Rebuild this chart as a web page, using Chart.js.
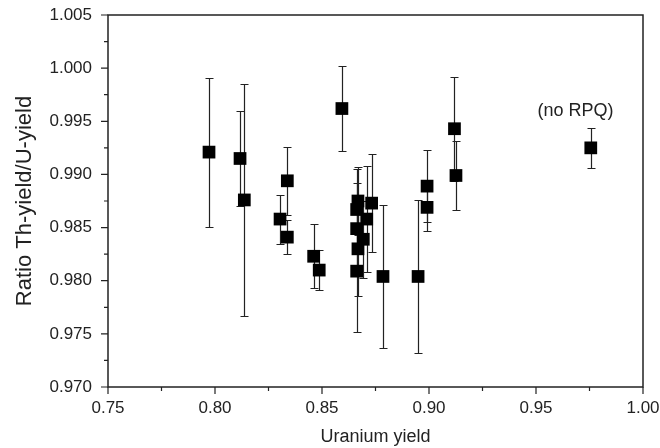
<!DOCTYPE html>
<html>
<head>
<meta charset="utf-8">
<script src="https://cdn.jsdelivr.net/npm/chart.js@4/dist/chart.umd.min.js"></script>
<style>
  html, body { margin: 0; padding: 0; background: #fff; }
  #wrap { width: 660px; height: 448px; }
</style>
</head>
<body>
<div id="wrap"><canvas id="c" width="660" height="448"></canvas></div>
<script>
// uranium yield (x), Th/U yield ratio (y), error half-width
const uYield = [0.7972, 0.8117, 0.8137, 0.8304, 0.8338, 0.8338, 0.8461, 0.8487, 0.8593,
  0.8668, 0.8662, 0.8732, 0.8709, 0.8662, 0.8693, 0.8668, 0.8662, 0.8785,
  0.8949, 0.8991, 0.8991, 0.9119, 0.9126, 0.9756];
const ratio = [0.9921, 0.9915, 0.9876, 0.9858, 0.9894, 0.9841, 0.9823, 0.9810, 0.9962,
  0.9875, 0.9867, 0.9873, 0.9858, 0.9849, 0.9839, 0.9830, 0.9809, 0.9804,
  0.9804, 0.9889, 0.9869, 0.9943, 0.9899, 0.9925];
const ratioErr = [0.0070, 0.0045, 0.0109, 0.0023, 0.0032, 0.0016, 0.0030, 0.0019, 0.0040,
  0.0032, 0.0038, 0.0046, 0.0050, 0.0043, 0.0036, 0.0044, 0.0057, 0.0067,
  0.0072, 0.0034, 0.0022, 0.0049, 0.0032, 0.0019];

const xRange = [0.75, 1.00];
const yRange = [0.970, 1.005];
const note = { text: "(no RPQ)", x: 0.9685, y: 0.9960 };

const ink = "#222";
const font = "'Liberation Sans', Arial, sans-serif";

const pts = uYield.map((x, i) => ({ x, y: ratio[i], e: ratioErr[i] }));

const isMajor = (v, step) => Math.abs(v / step - Math.round(v / step)) < 1e-6;

// error bars under the squares
const errBars = {
  id: "errBars",
  beforeDatasetsDraw(chart) {
    const { ctx, scales: { x, y } } = chart;
    ctx.save();
    ctx.strokeStyle = "#222";
    ctx.lineWidth = 1.2;
    pts.forEach(p => {
      const px = Math.round(x.getPixelForValue(p.x)) + 0.5;
      const yt = Math.round(y.getPixelForValue(p.y + p.e)) + 0.5;
      const yb = Math.round(y.getPixelForValue(p.y - p.e)) + 0.5;
      ctx.beginPath();
      ctx.moveTo(px, yt); ctx.lineTo(px, yb);
      ctx.moveTo(px - 4, yt); ctx.lineTo(px + 4, yt);
      ctx.moveTo(px - 4, yb); ctx.lineTo(px + 4, yb);
      ctx.stroke();
    });
    ctx.restore();
  }
};

// frame, tick marks, annotation
const frame = {
  id: "frame",
  afterDraw(chart) {
    const { ctx, chartArea: a, scales: { x, y } } = chart;
    ctx.save();
    ctx.strokeStyle = ink;
    ctx.lineWidth = 1.5;
    ctx.strokeRect(a.left, a.top, a.right - a.left, a.bottom - a.top);
    ctx.lineWidth = 1.2;
    ctx.beginPath();
    x.ticks.forEach(t => {
      const px = x.getPixelForValue(t.value);
      const len = isMajor(t.value, 0.05) ? 7 : 4;
      ctx.moveTo(px, a.bottom); ctx.lineTo(px, a.bottom + len);
    });
    y.ticks.forEach(t => {
      const py = y.getPixelForValue(t.value);
      const len = isMajor(t.value, 0.005) ? 7 : 4;
      ctx.moveTo(a.left, py); ctx.lineTo(a.left - len, py);
    });
    ctx.stroke();
    ctx.fillStyle = ink;
    ctx.font = "18px " + font;
    ctx.textAlign = "center";
    ctx.textBaseline = "middle";
    ctx.fillText(note.text, x.getPixelForValue(note.x), y.getPixelForValue(note.y));
    ctx.restore();
  }
};

new Chart(document.getElementById("c"), {
  type: "scatter",
  data: {
    datasets: [{
      data: pts,
      pointStyle: "rect",
      pointRadius: 9,
      pointHoverRadius: 9,
      backgroundColor: "#000",
      borderColor: "#000",
      borderWidth: 0
    }]
  },
  options: {
    responsive: false,
    animation: false,
    events: [],
    layout: { padding: { top: 15, right: 17, bottom: 0, left: 0 } },
    plugins: { legend: { display: false }, tooltip: { enabled: false } },
    scales: {
      x: {
        type: "linear",
        min: xRange[0], max: xRange[1],
        afterFit: s => { s.height = 61; s.paddingRight = 0; s.paddingLeft = 0; },
        border: { display: false },
        grid: { display: true, drawOnChartArea: false, tickLength: 7, tickColor: "rgba(0,0,0,0)" },
        ticks: {
          stepSize: 0.025, padding: 4, maxRotation: 0, autoSkip: false,
          color: ink, font: { family: font, size: 17 },
          callback: v => isMajor(v, 0.05) ? v.toFixed(2) : ""
        },
        title: { display: true, text: "Uranium yield", color: ink, font: { family: font, size: 18 }, padding: 0 }
      },
      y: {
        type: "linear",
        min: yRange[0], max: yRange[1],
        afterFit: s => { s.width = 108; s.paddingTop = 0; s.paddingBottom = 0; },
        border: { display: false },
        grid: { display: true, drawOnChartArea: false, tickLength: 7, tickColor: "rgba(0,0,0,0)" },
        ticks: {
          stepSize: 0.0025, padding: 9, autoSkip: false,
          color: ink, font: { family: font, size: 17 },
          callback: v => isMajor(v, 0.005) ? v.toFixed(3) : ""
        },
        title: { display: true, text: "Ratio Th-yield/U-yield", color: ink, font: { family: font, size: 22 }, padding: { top: 12, bottom: 0 } }
      }
    }
  },
  plugins: [errBars, frame]
});
</script>
</body>
</html>
